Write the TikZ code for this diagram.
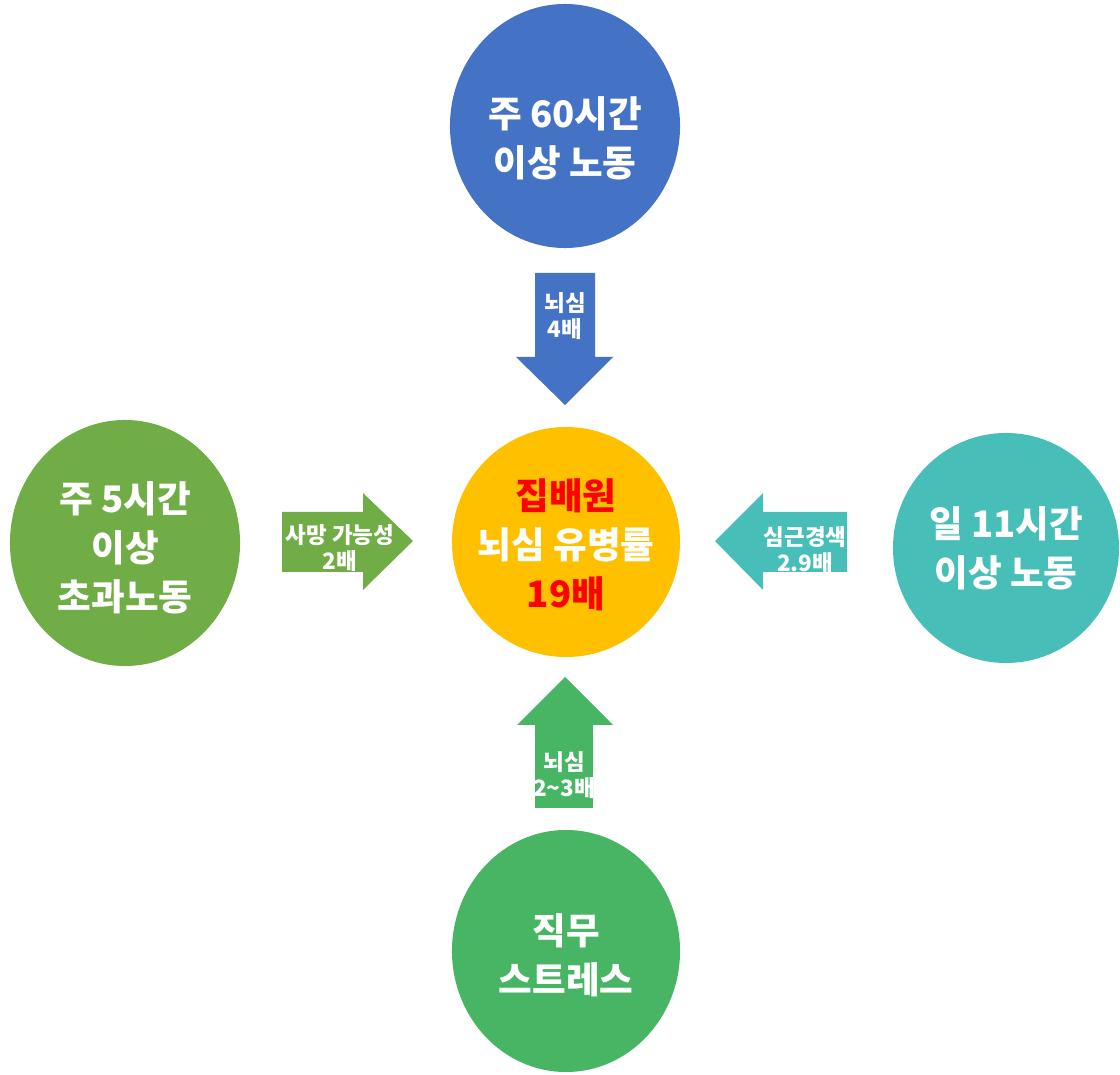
\documentclass[tikz,border=0pt]{standalone}
\usepackage{fontspec}
\setmainfont{Noto Sans CJK KR}
\usepackage{tikz}
\usetikzlibrary{shapes, calc, backgrounds}
\usepackage{xcolor}

\definecolor{topblue}{HTML}{4472C4}
\definecolor{leftgreen}{HTML}{70AD47}
\definecolor{rightteal}{HTML}{47BFB8}
\definecolor{midgold}{HTML}{FFC000}
\definecolor{lowgreen}{HTML}{47B564}
\definecolor{hotred}{HTML}{FF0000}

\tikzset{
  bubble/.style={ellipse, draw=none, inner sep=0pt},
  bigtext/.style={text=white, align=center, font=\bfseries\fontsize{26}{35}\selectfont},
  smalltext/.style={text=white, align=center, font=\bfseries\fontsize{16}{18.5}\selectfont}
}

\begin{document}
\begin{tikzpicture}[x=0.025cm, y=-0.025cm]

                \useasboundingbox (0,0) rectangle (1120,1075);

                \coordinate (A) at (0, 0);

                % circles
                \node[bubble, fill=topblue, minimum width=5.75cm, minimum height=6.1cm] (top) at ($ (A) + (565, 126) $) {};
                \node[bubble, fill=leftgreen, minimum width=5.75cm, minimum height=6.15cm] (left) at ($ (A) + (125, 543) $) {};
                \node[bubble, fill=rightteal, minimum width=5.65cm, minimum height=5.75cm] (right) at ($ (A) + (1006, 548) $) {};
                \node[bubble, fill=midgold, minimum width=5.7cm, minimum height=5.75cm] (mid) at ($ (A) + (566, 542) $) {};
                \node[bubble, fill=lowgreen, minimum width=5.7cm, minimum height=6.05cm] (low) at ($ (A) + (566, 951) $) {};

                % circle texts
                \node[bigtext] (toplabel) at ($ (top) + (0, 12) $) {주 60시간\\이상 노동};
                \node[bigtext] (leftlabel) at ($ (left) + (0, 5) $) {주 5시간\\이상\\초과노동};
                \node[bigtext] (rightlabel) at ($ (right) + (0, 0) $) {일 11시간\\이상 노동};
                \node[bigtext] (midlabel) at ($ (mid) + (0, 3) $) {\textcolor{hotred}{집배원}\\뇌심 유병률\\\textcolor{hotred}{19배}};
                \node[bigtext] (lowlabel) at ($ (low) + (0, 4) $) {직무\\스트레스};

                % arrow down
                \fill[topblue] (535, 273) -- (595, 273) -- (595, 357) -- (613, 357) -- (565, 405) -- (516, 357) -- (535, 357) -- cycle;
                \node[smalltext] (downlabel) at ($ (A) + (565, 316) $) {뇌심\\4배};

                % arrow right
                \fill[leftgreen] (282, 512) -- (363, 512) -- (363, 493) -- (413, 541) -- (363, 590) -- (363, 572) -- (282, 572) -- cycle;
                \node[smalltext] (rightlabel2) at ($ (A) + (340, 548) $) {사망 가능성\\2배};

                % arrow left
                \fill[rightteal] (847, 512) -- (763, 512) -- (763, 493) -- (715, 541) -- (763, 590) -- (763, 572) -- (847, 572) -- cycle;
                \node[smalltext] (leftlabel2) at ($ (A) + (805, 550) $) {심근경색\\2.9배};

                % arrow up
                \fill[lowgreen] (535, 808) -- (593, 808) -- (593, 725) -- (613, 725) -- (565, 677) -- (517, 725) -- (535, 725) -- cycle;
                \node[smalltext] (uplabel) at ($ (A) + (564, 775) $) {뇌심\\2\textasciitilde3배};

\end{tikzpicture}
\end{document}
